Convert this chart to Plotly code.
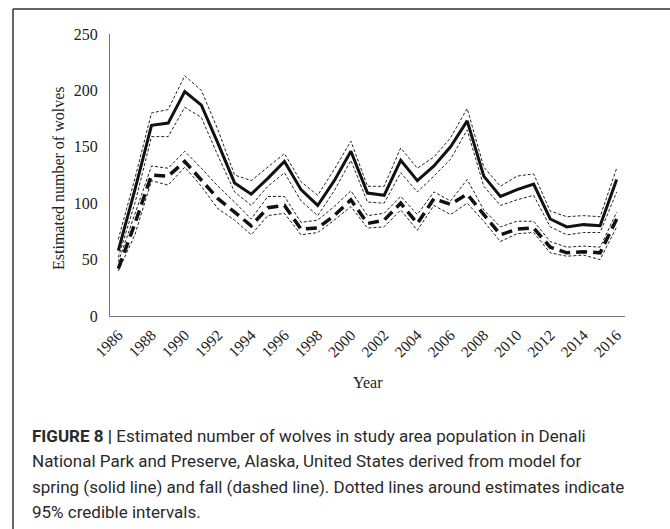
import plotly.graph_objects as go

years = list(range(1986, 2017))

spring = [58, 112, 169, 171, 199, 187, 153, 118, 108, 122, 137, 112, 98, 120, 146, 109,
          107, 138, 120, 133, 150, 173, 124, 106, 112, 117, 86, 79, 81, 80, 121]
spring_hi = [68, 122, 180, 183, 213, 200, 165, 125, 120, 132, 144, 119, 107, 130, 155, 115,
             115, 149, 131, 141, 158, 184, 132, 115, 124, 126, 93, 88, 89, 88, 131]
spring_lo = [52, 100, 159, 159, 185, 176, 142, 110, 98, 115, 127, 102, 89, 111, 138, 101,
             100, 127, 110, 124, 139, 165, 115, 98, 103, 107, 79, 72, 74, 74, 110]

fall = [42, 82, 125, 124, 137, 121, 104, 92, 80, 96, 98, 77, 78, 89, 103, 82,
        85, 100, 82, 104, 99, 108, 90, 72, 77, 78, 61, 56, 57, 56, 86]
fall_hi = [48, 90, 133, 131, 146, 131, 115, 101, 86, 106, 106, 83, 85, 97, 111, 89,
           91, 106, 90, 110, 102, 121, 94, 79, 84, 84, 66, 61, 62, 61, 92]
fall_lo = [40, 72, 120, 116, 132, 115, 95, 85, 72, 89, 91, 72, 74, 85, 97, 78,
           79, 94, 76, 98, 90, 100, 84, 66, 73, 74, 56, 53, 54, 50, 79]

x_ticks = list(range(1986, 2017, 2))
y_ticks = [0, 50, 100, 150, 200, 250]

caption_lines = [
    "<b>FIGURE 8 |</b> Estimated number of wolves in study area population in Denali",
    "National Park and Preserve, Alaska, United States derived from model for",
    "spring (solid line) and fall (dashed line). Dotted lines around estimates indicate",
    "95% credible intervals.",
]

W, H = 670, 529
L, R, T, B = 110, 45, 34, 213
pw, ph = W - L - R, H - T - B


def px(xp):
    return (xp - L) / pw


def py(yp):
    return (H - B - yp) / ph


fig = go.Figure()
ci_style = dict(color="#222", width=1, dash="3px,2px")
for s in [spring_hi, spring_lo, fall_hi, fall_lo]:
    fig.add_trace(go.Scatter(x=years, y=s, mode="lines", line=ci_style, showlegend=False))
fig.add_trace(go.Scatter(x=years, y=spring, mode="lines",
                         line=dict(color="#111", width=3), showlegend=False))
fig.add_trace(go.Scatter(x=years, y=fall, mode="lines",
                         line=dict(color="#111", width=3.5, dash="11px,6px"), showlegend=False))

serif = "Liberation Serif"
fig.update_layout(
    width=W, height=H,
    margin=dict(l=L, r=R, t=T, b=B),
    paper_bgcolor="white", plot_bgcolor="white",
    xaxis=dict(range=[1985.5, 2016.5], tickvals=x_ticks, ticktext=[str(v) for v in x_ticks],
               tickangle=-45, showgrid=False, zeroline=False, showline=True,
               linecolor="#777", linewidth=1, ticks="", ticklabelstandoff=3,
               tickfont=dict(family=serif, size=15.5, color="#222")),
    yaxis=dict(range=[0, 250], tickvals=y_ticks, showgrid=False, zeroline=False,
               showline=True, linecolor="#777", linewidth=1, ticks="",
               ticklabelstandoff=8,
               tickfont=dict(family=serif, size=16, color="#222")),
)

ann = [
    dict(text="Year", x=px(368), y=py(382), xref="paper", yref="paper",
         showarrow=False, xanchor="center", yanchor="middle",
         font=dict(family=serif, size=16, color="#222")),
    dict(text="Estimated number of wolves", x=px(58), y=py(178), xref="paper", yref="paper",
         showarrow=False, xanchor="center", yanchor="middle", textangle=-90,
         font=dict(family=serif, size=16, color="#222")),
]
for i, line in enumerate(caption_lines):
    ann.append(dict(text=line, x=px(30), y=py(436 + 25.3 * i), xref="paper", yref="paper",
                    showarrow=False, xanchor="left", yanchor="middle",
                    font=dict(family="Roboto", size=17, color="#2a2a2a")))
fig.update_layout(annotations=ann)

fig.add_shape(type="line", xref="paper", yref="paper", x0=px(13), x1=px(13),
              y0=py(9), y1=py(560), line=dict(color="#333", width=1.5))
fig.add_shape(type="line", xref="paper", yref="paper", x0=px(13), x1=px(700),
              y0=py(9), y1=py(9), line=dict(color="#333", width=1.5))

fig.write_html("out.html")
